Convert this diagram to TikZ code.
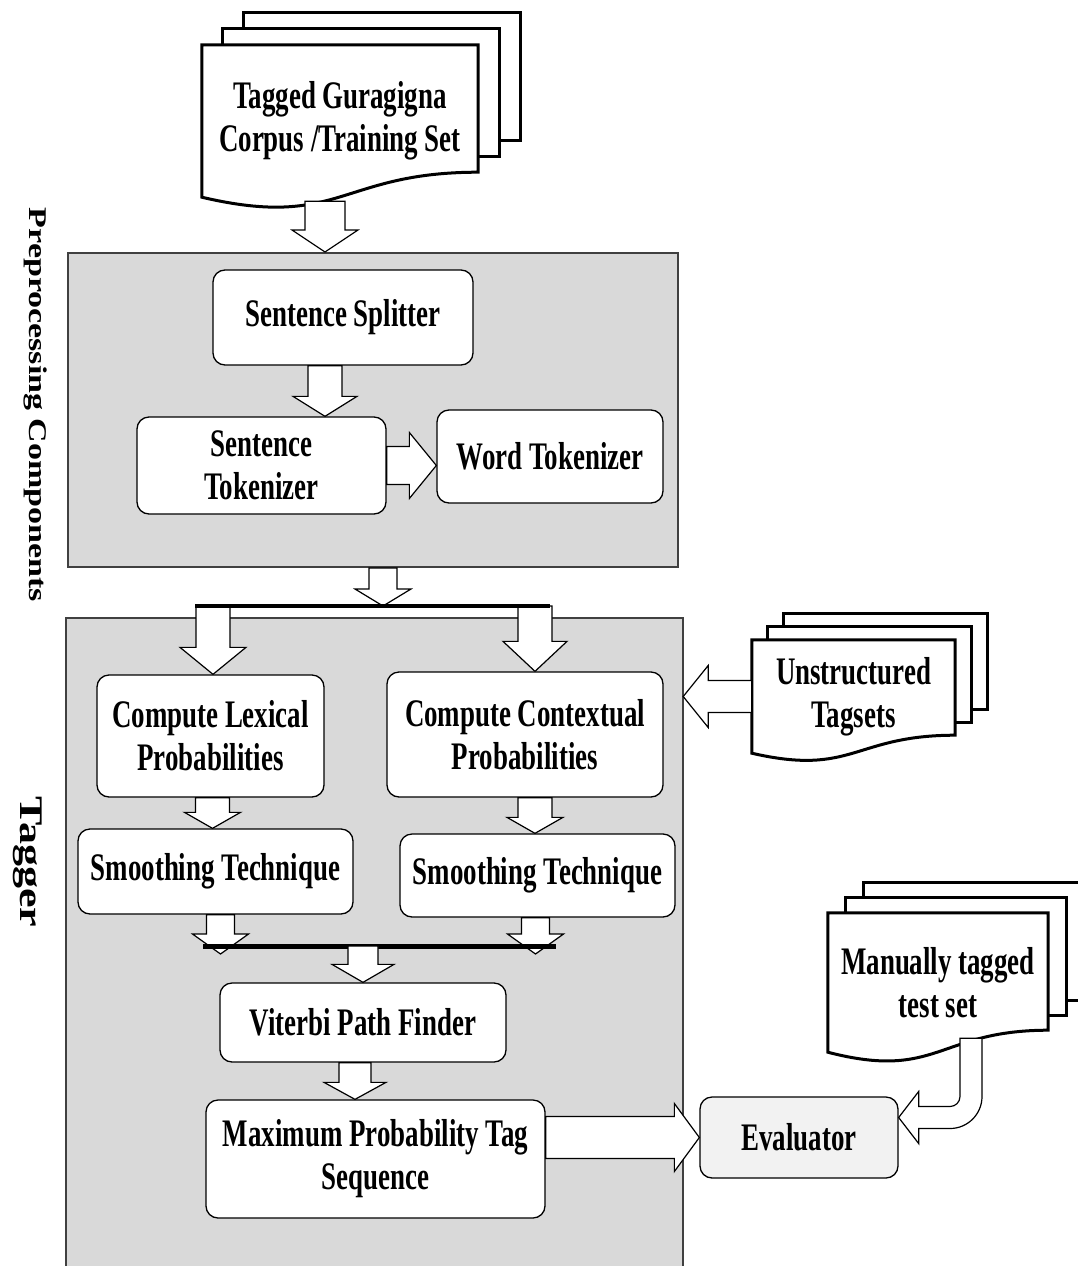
\documentclass[tikz,border=0pt]{standalone}
\usepackage{fontspec}
\usepackage{graphicx}
\setmainfont{Liberation Serif}
\newfontfamily\boxfont{Liberation Serif}[FakeStretch=0.69]
\usetikzlibrary{calc,backgrounds}

\definecolor{panelgray}{RGB}{217,217,217}
\definecolor{evalgray}{RGB}{242,242,242}

\tikzset{
  stage/.style={draw,line width=1.3pt,rounded corners=12pt,fill=white,align=center,inner sep=0pt},
  boxsize/.style 2 args={minimum width=#1pt,minimum height=#2pt},
  panel/.style={fill=panelgray,inner sep=0pt},
  panelline/.style={draw=black!75,line width=2pt},
  page/.style={draw,line width=3pt,fill=white,line join=miter},
  doc/.style={inner sep=0pt,align=center},
  fork/.style={line width=4pt},
  fatdown/.style n args={3}{draw,fill=white,line width=1.2pt,to path={
    let \p1=(\tikztostart),\p2=(\tikztotarget) in
    (\x1-#1pt,\y1) -- (\x1-#1pt,\y2+#3pt) -- (\x1-#2pt,\y2+#3pt) -- (\x1,\y2)
    -- (\x1+#2pt,\y2+#3pt) -- (\x1+#1pt,\y2+#3pt) -- (\x1+#1pt,\y1) -- cycle}},
  fatright/.style n args={3}{draw,fill=white,line width=1.2pt,to path={
    let \p1=(\tikztostart),\p2=(\tikztotarget) in
    (\x1,\y1+#1pt) -- (\x2-#3pt,\y1+#1pt) -- (\x2-#3pt,\y1+#2pt) -- (\x2,\y1)
    -- (\x2-#3pt,\y1-#2pt) -- (\x2-#3pt,\y1-#1pt) -- (\x1,\y1-#1pt) -- cycle}},
  fatleft/.style n args={3}{draw,fill=white,line width=1.2pt,to path={
    let \p1=(\tikztostart),\p2=(\tikztotarget) in
    (\x1,\y1+#1pt) -- (\x2+#3pt,\y1+#1pt) -- (\x2+#3pt,\y1+#2pt) -- (\x2,\y1)
    -- (\x2+#3pt,\y1-#2pt) -- (\x2+#3pt,\y1-#1pt) -- (\x1,\y1-#1pt) -- cycle}},
  fatbend/.style={draw,fill=white,line width=1.2pt,to path={
    let \p1=(\tikztostart),\p2=(\tikztotarget) in
    (\x1-11pt,\y1) -- (\x1-11pt,\y2+21pt)
    arc[start angle=0,end angle=-90,radius=10pt]
    -- (\x2+20pt,\y2+11pt) -- (\x2+20pt,\y2+26pt) -- (\x2,\y2)
    -- (\x2+20pt,\y2-26pt) -- (\x2+20pt,\y2-11pt) -- (\x1-21pt,\y2-11pt)
    arc[start angle=-90,end angle=0,radius=32pt]
    -- (\x1+11pt,\y1) -- cycle}}
}

% pile of pages behind a document node: node, dx, dy, wave
\newcommand\docpile[4]{%
  \begin{scope}[on background layer]
    \foreach \k in {2,1}
      \draw[page] ([xshift=\k*#2pt,yshift=\k*#3pt]#1.north west)
        rectangle ([xshift=\k*#2pt,yshift=\k*#3pt+#4pt]#1.south east);
    \draw[page] (#1.north west) -- (#1.north east) -- ([yshift=#4pt]#1.south east)
      .. controls ($(#1.south east)!0.5!(#1.south west)+(0pt,#4pt)$)
      and ($(#1.south east)!0.5!(#1.south west)+(0pt,-1.3*#4pt)$) .. (#1.south west)
      -- cycle;
  \end{scope}}

\begin{document}
\begin{tikzpicture}[x=1pt,y=-1pt,font=\boxfont\bfseries\fontsize{39}{43}\selectfont]
  \useasboundingbox (0,0) rectangle (1078,1266);

  % panels
  \node[panel,panelline,minimum width=610pt,minimum height=314pt] (pre) at (373,410) {};
  \node[panel,minimum width=617pt,minimum height=648pt] (tagger) at (374.5,942) {};
  \draw[panelline] (tagger.south west) |- (tagger.north east) -- (tagger.south east);

  \node[rotate=-90,font=\bfseries\fontsize{34}{40}\selectfont] (prelabel) at (36,405)
    {\scalebox{1}[0.75]{Preprocessing Components}};
  \node[rotate=-90,font=\bfseries\fontsize{44}{50}\selectfont] (taglabel) at (28,862)
    {\scalebox{1}[0.75]{Tagger}};

  % documents
  \node[doc,boxsize={276}{152}] (corpus) at (340,121) {Tagged Guragigna\\Corpus /Training Set};
  \docpile{corpus}{21}{16}{25}
  \node[doc,boxsize={203}{113}] (tags) at (853.5,696.5) {Unstructured\\Tagsets};
  \docpile{tags}{16}{13}{18}
  \node[doc,boxsize={220}{139}] (test) at (938,982.5) {Manually tagged\\test set};
  \docpile{test}{18}{15}{22}

  % preprocessing
  \node[stage,boxsize={260}{95}] (split) at (343,317.5) {Sentence Splitter};
  \node[stage,boxsize={249}{97}] (stok) at (261.5,465.5) {Sentence\\Tokenizer};
  \node[stage,boxsize={226}{93}] (wtok) at (550,456.5) {Word Tokenizer};

  % tagger
  \node[stage,boxsize={227}{122}] (clex) at (210.5,736) {Compute Lexical\\Probabilities};
  \node[stage,boxsize={276}{125}] (cctx) at (525,734.5) {Compute Contextual\\Probabilities};
  \node[stage,boxsize={275}{85}] (sm1) at (215.5,871.5) {Smoothing Technique};
  \node[stage,boxsize={275}{83}] (sm2) at (537.5,875.5) {Smoothing Technique};
  \node[stage,boxsize={286}{79}] (vit) at (363,1022.5) {Viterbi Path Finder};
  \node[stage,boxsize={339}{118}] (mpts) at (375.5,1159) {Maximum Probability Tag\\Sequence};
  \node[stage,fill=evalgray,boxsize={198}{81}] (eval) at (799,1137.5) {Evaluator};

  \coordinate (forkL) at (195,606);
  \coordinate (forkR) at (550,606);
  \coordinate (joinL) at (203,946);
  \coordinate (joinR) at (556,946);

  % arrows
  \draw[fatdown={20}{33}{22}] ([xshift=-15pt,yshift=-4pt]corpus.south) to (pre.north);
  \draw[fatdown={17}{32}{20}] ([xshift=-18pt]split.south) to (stok.north);
  \draw[fatright={19}{33}{27}] (stok.east) to (wtok.west);
  \draw[fatdown={14}{28}{17}] ([xshift=10pt]pre.south) to (forkL);
  \draw[fatdown={17}{33}{27}] ([xshift=18pt]forkL) to (clex.north);
  \draw[fatdown={17}{32}{30}] ([xshift=-15pt]forkR) to (cctx.north);
  \draw[fork] (forkL) -- (forkR);
  \draw[fatdown={17}{28}{16}] ([xshift=2pt]clex.south) to (sm1.north);
  \draw[fatdown={17}{28}{16}] ([xshift=10pt]cctx.south) to (sm2.north);
  \draw[fatdown={14}{28}{20}] ([xshift=5pt]sm1.south) to ([yshift=-8pt]joinL);
  \draw[fatdown={14}{28}{20}] ([xshift=-2pt]sm2.south) to ([yshift=-8pt]joinR);
  \draw[fork,line width=5pt] (joinL) -- (joinR);
  \draw[fatdown={15}{31}{18}] (joinL -| vit.north) to (vit.north);
  \draw[fatdown={16}{31}{17}] ([xshift=-8pt]vit.south) to (mpts.north);
  \draw[fatright={21}{34}{25}] (mpts.east |- eval.west) to (eval.west);
  \draw[fatleft={16}{31}{25}] (tags.west) to (tagger.east |- tags.west);
  \draw[fatbend] ([xshift=33pt,yshift=14pt]test.south) to ([yshift=20pt]eval.east);
\end{tikzpicture}
\end{document}
